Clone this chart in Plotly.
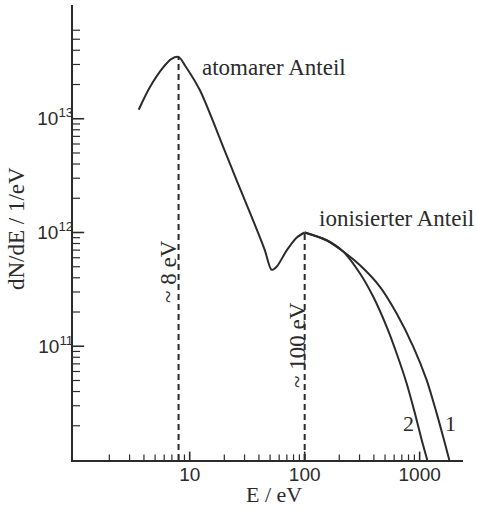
import plotly.graph_objects as go

# ---- data ----
# atomic part, minimum and rise up to the ionised maximum
E_main = [3.6, 4.5, 5.9, 6.9, 8.0, 9.1, 12.3, 20.1, 25.6, 37.0, 45.0, 51.5, 57.0, 70.0, 85.0, 100.0]
N_main = [1.2e13, 1.89e13, 2.84e13, 3.35e13, 3.5e13, 2.94e13, 1.77e13, 5.27e12, 2.87e12, 1.16e12,
          7.0e11, 4.7e11, 5.0e11, 7.0e11, 9.0e11, 1.0e12]
# ionised part from its maximum: curve 1 (outer) and curve 2 (inner)
E_curve1 = [100, 155, 215, 303, 452, 631, 881, 1151, 1406, 1629, 1811]
N_curve1 = [1.0e12, 8.55e11, 6.84e11, 5.15e11, 3.33e11, 1.94e11, 9.89e10, 5.04e10, 2.57e10, 1.5e10, 1.0e10]
E_curve2 = [100, 155, 215, 303, 395, 517, 631, 771, 910, 1042, 1165]
N_curve2 = [1.0e12, 8.55e11, 6.84e11, 4.36e11, 2.72e11, 1.48e11, 8.64e10, 4.71e10, 2.57e10, 1.5e10, 1.0e10]

# marked maxima
E_peaks = [8.0, 100.0]
N_peaks = [3.5e13, 1.0e12]
N_floor = 1e10

# axis ticks
y_major = [1e11, 1e12, 1e13]
y_major_text = ["10<sup>11</sup>", "10<sup>12</sup>", "10<sup>13</sup>"]
y_minor = [m * 10 ** d for d in (10, 11, 12) for m in range(2, 10)] + [2e13, 3e13, 4e13, 5e13, 6e13]
x_major = [10, 100, 1000]
x_major_text = ["10", "100", "1000"]
x_minor = [m * 10 ** d for d in (0, 1, 2) for m in range(2, 10)]

INK = "#2b2b2b"
SERIF = "Liberation Serif"
SANS = "Liberation Sans"
XR = [-0.015, 3.377]
YR = [10, 14]
X_EDGE = 10 ** XR[0]   # left edge of the plot in data units
Y_EDGE = 10 ** YR[0]   # bottom edge of the plot in data units

fig = go.Figure()
line = dict(color=INK, width=2, shape="spline", smoothing=0.8)
fig.add_trace(go.Scatter(x=E_main, y=N_main, mode="lines", line=line, hoverinfo="skip"))
fig.add_trace(go.Scatter(x=E_curve1, y=N_curve1, mode="lines", line=line, hoverinfo="skip"))
fig.add_trace(go.Scatter(x=E_curve2, y=N_curve2, mode="lines", line=line, hoverinfo="skip"))
for e, n in zip(E_peaks, N_peaks):
    fig.add_trace(go.Scatter(x=[e, e], y=[N_floor, n], mode="lines",
                             line=dict(color=INK, width=2, dash="6px,4px"), hoverinfo="skip"))


# inward tick marks: line markers centred on the axis line, clipped to the plot area
def tick_trace(xs, ys, symbol, size, width):
    return go.Scatter(x=xs, y=ys, mode="markers", cliponaxis=True, hoverinfo="skip",
                      marker=dict(symbol=symbol, size=size, color=INK,
                                  line=dict(color=INK, width=width)))


fig.add_trace(tick_trace(x_minor, [Y_EDGE] * len(x_minor), "line-ns", 8, 1.2))
fig.add_trace(tick_trace(x_major, [Y_EDGE] * len(x_major), "line-ns", 12, 1.6))
fig.add_trace(tick_trace([X_EDGE] * len(y_minor), y_minor, "line-ew", 10, 1.2))
fig.add_trace(tick_trace([X_EDGE] * len(y_major), y_major, "line-ew", 16, 1.6))

W, H = 477, 512
L, R, T, B = 73, 14, 5, 52
PW, PH = W - L - R, H - T - B


def px(xp):
    return (xp - L) / PW


def py(yp):
    return (H - B - yp) / PH


def ann(text, x, y, size=23, angle=0, xanchor="center", yanchor="middle", font=SERIF):
    return dict(text=text, x=px(x), y=py(y), xref="paper", yref="paper", showarrow=False,
                textangle=angle, xanchor=xanchor, yanchor=yanchor,
                font=dict(family=font, size=size, color=INK))


annotations = [
    ann("atomarer Anteil", 200, 68, xanchor="left"),
    ann("ionisierter Anteil", 317, 218, xanchor="left"),
    ann("~ 8 eV", 168, 272, angle=-90),
    ann("~ 100 eV", 297, 345, angle=-90),
    ann("2", 408, 423, size=22),
    ann("1", 450, 423, size=22),
    ann("dN/dE / 1/eV", 16, 229, angle=-90),
    ann("E / eV", 274, 494, size=22),
]

fig.update_layout(
    width=W, height=H, margin=dict(l=L, r=R, t=T, b=B),
    paper_bgcolor="white", plot_bgcolor="white", showlegend=False,
    annotations=annotations,
    xaxis=dict(type="log", range=XR, showgrid=False, zeroline=False,
               showline=True, linecolor=INK, linewidth=2,
               tickmode="array", tickvals=x_major, ticktext=x_major_text,
               ticks="", ticklabelstandoff=-4,
               tickfont=dict(family=SANS, size=19, color=INK)),
    yaxis=dict(type="log", range=YR, showgrid=False, zeroline=False,
               showline=True, linecolor=INK, linewidth=2,
               tickmode="array", tickvals=y_major, ticktext=y_major_text,
               ticks="", ticklabelstandoff=-6,
               tickfont=dict(family=SANS, size=19, color=INK)),
)

fig.write_html("out.html")
